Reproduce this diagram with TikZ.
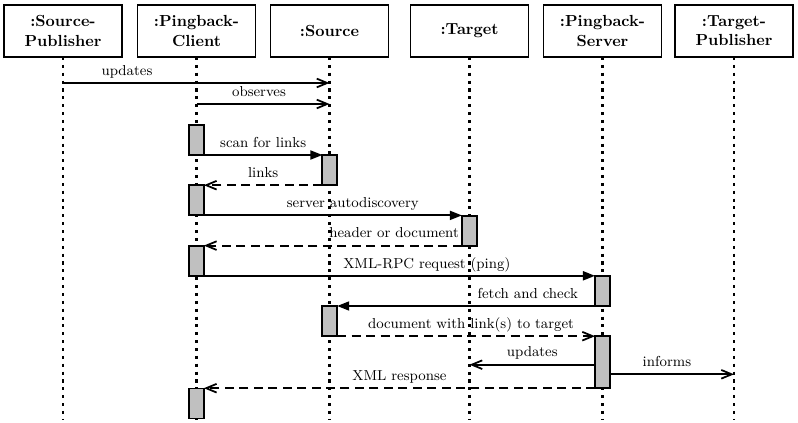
\documentclass[tikz,border=0pt]{standalone}
\usetikzlibrary{arrows.meta}
\begin{document}
\begin{tikzpicture}[x=0.623pt,y=-0.623pt,
  obj/.style={draw,line width=1.2pt,minimum width=73.5pt,minimum height=32.4pt,
    align=center,font=\bfseries,inner sep=1pt,outer sep=0pt},
  lifeline/.style={line width=1.35pt,dash pattern=on 1.9pt off 3pt},
  act/.style={draw,line width=1.15pt,fill={rgb,255:red,192;green,192;blue,192},
    minimum width=9.2pt,minimum height=18.7pt,inner sep=0pt,outer sep=0pt},
  callarr/.style={line width=1.15pt,-{Triangle[length=7.5pt,width=5.6pt]}},
  asyncarr/.style={line width=1.15pt,-{Straight Barb[length=6.5pt,width=5.4pt,line width=1.1pt]}},
  replyarr/.style={asyncarr,dash pattern=on 5.6pt off 3.4pt},
  lbl/.style={font=\small,anchor=base,yshift=4.8pt,inner sep=0pt}]
\useasboundingbox (0,0) rectangle (798,423);

% objects
\node[obj] (sp)  at (63,31)    {:Source-\\Publisher};
\node[obj] (pc)  at (196.5,31) {:Pingback-\\Client};
\node[obj] (src) at (329.5,31) {:Source};
\node[obj] (tgt) at (469.5,31) {:Target};
\node[obj] (ps)  at (602.5,31) {:Pingback-\\Server};
\node[obj] (tp)  at (734,31)   {:Target-\\Publisher};

% lifeline ends
\coordinate (spE)  at (63,420);
\coordinate (pcE)  at (196.5,420);
\coordinate (srcE) at (329.5,420);
\coordinate (tgtE) at (469.5,420);
\coordinate (psE)  at (602.5,420);
\coordinate (tpE)  at (734,420);

\draw[lifeline] (sp.south)  -- (spE);
\draw[lifeline] (pc.south)  -- (pcE);
\draw[lifeline] (src.south) -- (srcE);
\draw[lifeline] (tgt.south) -- (tgtE);
\draw[lifeline] (ps.south)  -- (psE);
\draw[lifeline] (tp.south)  -- (tpE);

% activation boxes
\node[act] (pc1)  at (196.5,140) {};
\node[act] (src1) at (329.8,170.2) {};
\node[act] (pc2)  at (196.5,200.4) {};
\node[act] (tgt1) at (469.3,230.6) {};
\node[act] (pc3)  at (196.5,260.8) {};
\node[act] (ps1)  at (602.4,291) {};
\node[act] (src2) at (329.8,321.2) {};
\node[act,minimum height=32.4pt] (ps2) at (602.4,362.2) {};
\node[act] (pc4)  at (196.5,403.5) {};

% message coordinates
\coordinate (upS) at (63,83);
\coordinate (upE) at (329.5,83);
\coordinate (obS) at (196.5,104);
\coordinate (obE) at (329.5,104);
\coordinate (tu)  at (469.5,364.7);
\coordinate (ti)  at (734,374.3);

% messages
\draw[asyncarr] (upS) -- (upE) node[lbl,pos=0.24] {updates};
\draw[asyncarr] (obS) -- (obE) node[lbl,pos=0.47] {observes};
\draw[callarr] (pc1.south east) -- (pc1.south east -| src1.west) node[lbl,midway] {scan for links};
\draw[replyarr] (src1.south west) -- (src1.south west -| pc2.east) node[lbl,midway] {links};
\draw[callarr] (pc2.south east) -- (pc2.south east -| tgt1.west) node[lbl,pos=0.577] {server autodiscovery};
\draw[replyarr] (tgt1.south west) -- (tgt1.south west -| pc3.east) node[lbl,pos=0.263] {header or document};
\draw[callarr] (pc3.south east) -- (pc3.south east -| ps1.west) node[lbl,pos=0.57] {XML-RPC request (ping)};
\draw[callarr] (ps1.south west) -- (ps1.south west -| src2.east) node[lbl,pos=0.261] {fetch and check};
\draw[replyarr] (src2.south east) -- (src2.south east -| ps2.west) node[lbl,pos=0.519] {document with link(s) to target};
\draw[asyncarr] (ps2.west |- tu) -- (tu) node[lbl,midway] {updates};
\draw[asyncarr] (ps2.east |- ti) -- (ti) node[lbl,pos=0.46] {informs};
\draw[replyarr] (ps2.south west) -- (ps2.south west -| pc4.east) node[lbl,midway] {XML response};
\end{tikzpicture}
\end{document}
